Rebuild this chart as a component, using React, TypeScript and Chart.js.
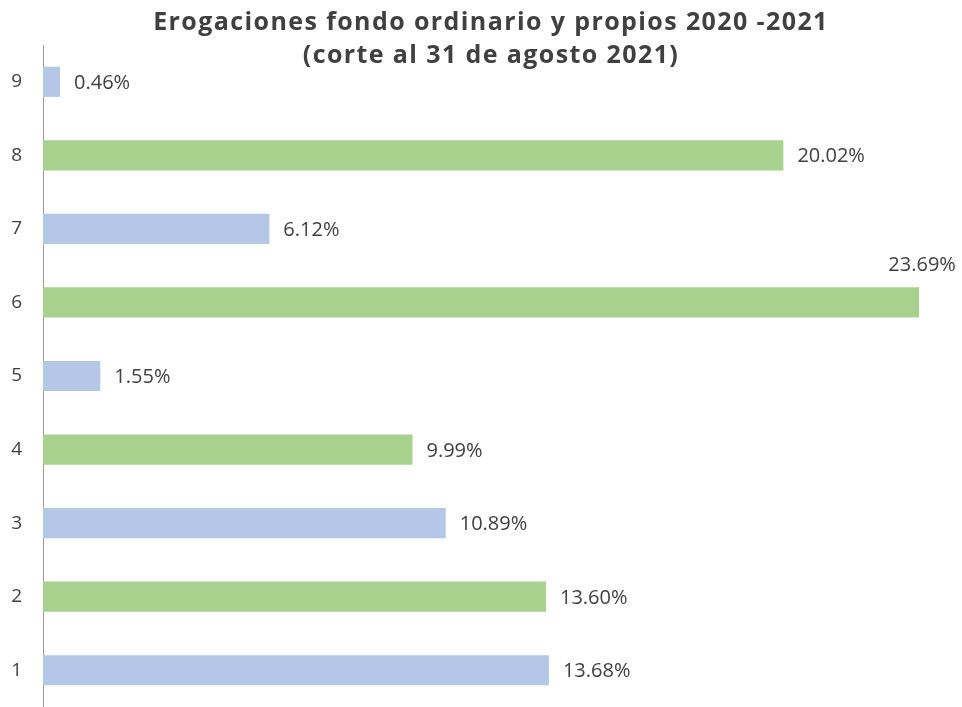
import React, { useEffect, useRef } from "react";
import { Chart, registerables } from "chart.js";

Chart.register(...registerables);

const categories = ["1", "2", "3", "4", "5", "6", "7", "8", "9"];
const values = [13.68, 13.6, 10.89, 9.99, 1.55, 23.69, 6.12, 20.02, 0.46];
const titleLines = [
  "Erogaciones fondo ordinario y propios 2020 -2021",
  "(corte al 31 de agosto 2021)",
];

const BLUE = "#b4c7e7";
const GREEN = "#a9d18e";
const TEXT = "#404040";
const FONT = "'Open Sans', Lato, sans-serif";

const barColors = categories.map((_, i) => (i % 2 === 0 ? BLUE : GREEN));

const titlePlugin = {
  id: "customTitle",
  afterDraw(chart: any) {
    const { ctx } = chart;
    ctx.save();
    ctx.fillStyle = TEXT;
    ctx.font = `bold 25px ${FONT}`;
    try {
      (ctx as any).letterSpacing = "1.4px";
    } catch (e) {}
    ctx.textAlign = "center";
    ctx.textBaseline = "alphabetic";
    const cx = 491;
    ctx.fillText(titleLines[0], cx, 30);
    ctx.fillText(titleLines[1], cx, 63);
    ctx.restore();
  },
};

const labelPlugin = {
  id: "valueLabels",
  afterDatasetsDraw(chart: any) {
    const { ctx, chartArea } = chart;
    const meta = chart.getDatasetMeta(0);
    ctx.save();
    ctx.fillStyle = TEXT;
    ctx.font = `20px ${FONT}`;
    ctx.textBaseline = "alphabetic";
    meta.data.forEach((bar: any, i: number) => {
      const text = values[i].toFixed(2) + "%";
      const w = ctx.measureText(text).width;
      const x = bar.x + 14;
      if (x + w > chartArea.right) {
        ctx.textAlign = "center";
        ctx.fillText(text, bar.x + 3, bar.y - 31);
      } else {
        ctx.textAlign = "left";
        ctx.fillText(text, x, bar.y + 7);
      }
    });
    ctx.restore();
  },
};

export default function App() {
  const ref = useRef<HTMLCanvasElement>(null);
  useEffect(() => {
    if (!ref.current) return;
    const chart = new Chart(ref.current, {
      type: "bar",
      data: {
        labels: categories,
        datasets: [
          {
            data: values,
            backgroundColor: barColors,
            borderWidth: 0,
            barPercentage: 0.41,
            categoryPercentage: 1,
          },
        ],
      },
      options: {
        indexAxis: "y",
        animation: false,
        responsive: false,
        maintainAspectRatio: false,
        layout: { padding: { top: 45, left: 0, right: 0, bottom: 0 } },
        plugins: {
          legend: { display: false },
          title: { display: false },
          tooltip: { enabled: false },
        },
        scales: {
          x: { display: false, min: 0, max: 24.85 },
          y: {
            reverse: true,
            grid: { display: false, drawTicks: false },
            border: { display: true, color: "#9a9a9a", width: 1 },
            ticks: {
              color: TEXT,
              font: { size: 19, family: FONT },
              padding: 21,
            },
            afterFit(scale: any) {
              scale.width = 43;
              scale.paddingTop = 0;
              scale.paddingBottom = 0;
            },
          },
        },
      },
      plugins: [labelPlugin, titlePlugin],
    });
    return () => chart.destroy();
  }, []);
  return (
    <div style={{ position: "fixed", left: 0, top: 0, width: 962, height: 707, background: "#fff" }}>
      <canvas ref={ref} width={962} height={707} style={{ display: "block" }} />
    </div>
  );
}
